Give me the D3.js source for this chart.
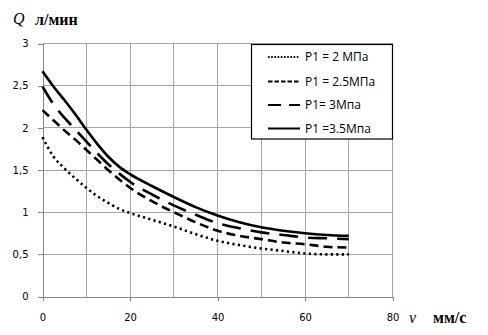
<!DOCTYPE html>
<html>
<head>
<meta charset="utf-8">
<script src="https://cdn.jsdelivr.net/npm/d3@7/dist/d3.min.js"></script>
<style>
  html, body { margin: 0; padding: 0; background: #fff; }
  svg { display: block; }
</style>
</head>
<body>
<svg id="chart" width="488" height="335"></svg>
<script>
// Piston speed v, mm/s
const speeds = [0, 2.5, 5, 7.5, 10, 12.5, 15, 17.5, 20, 25, 30, 35, 40, 45, 50, 55, 60, 65, 70];

// Flow rate Q, l/min, for each supply pressure P1
const q2 = [1.89, 1.66, 1.52, 1.40, 1.29, 1.19, 1.11, 1.04, 0.99, 0.91, 0.83, 0.74, 0.66, 0.61, 0.57, 0.54, 0.51, 0.50, 0.50];
const q25 = [2.21, 2.09, 1.97, 1.86, 1.74, 1.62, 1.50, 1.39, 1.29, 1.13, 1.00, 0.88, 0.78, 0.72, 0.68, 0.64, 0.62, 0.59, 0.58];
const q3 = [2.49, 2.28, 2.12, 1.98, 1.84, 1.70, 1.57, 1.46, 1.36, 1.21, 1.08, 0.97, 0.87, 0.81, 0.76, 0.73, 0.70, 0.69, 0.68];
const q35 = [2.67, 2.49, 2.33, 2.16, 1.98, 1.81, 1.66, 1.54, 1.45, 1.31, 1.18, 1.06, 0.96, 0.88, 0.82, 0.78, 0.75, 0.73, 0.72];

const seriesNames = ["P1 = 2 МПа", "P1 = 2.5МПа", "P1= 3Мпа", "P1 =3.5Мпа"];
const seriesValues = [q2, q25, q3, q35];

const xTicks = [0, 20, 40, 60, 80];
const xGrid = [0, 10, 20, 30, 40, 50, 60, 70, 80];
const yTicks = [0, 0.5, 1, 1.5, 2, 2.5, 3];
const yTickLabels = ["0", "0,5", "1", "1,5", "2", "2,5", "3"];

const svg = d3.select("#chart");

const x = d3.scaleLinear().domain([0, 80]).range([42.5, 392.5]);
const y = d3.scaleLinear().domain([0, 3]).range([296.5, 43.5]);

// Grid
const grid = svg.append("g").attr("stroke", "#a6a6a6").attr("stroke-width", 1).attr("shape-rendering", "crispEdges");
grid.selectAll("line.v").data(xGrid.filter(d => d > 0)).join("line")
  .attr("x1", d => x(d)).attr("x2", d => x(d))
  .attr("y1", y(3)).attr("y2", y(0));
grid.selectAll("line.h").data(yTicks.filter(d => d > 0)).join("line")
  .attr("x1", x(0)).attr("x2", x(80))
  .attr("y1", d => y(d)).attr("y2", d => y(d));

// Axes
const yAxis = d3.axisLeft(y).tickValues(yTicks)
  .tickFormat((d, i) => yTickLabels[i]).tickSize(5).tickPadding(9);
const gy = svg.append("g").attr("transform", `translate(${x(0)},0)`).call(yAxis);

const xAxis = d3.axisBottom(x).tickValues(xTicks).tickFormat(d3.format("d")).tickSize(4).tickPadding(11);
const gx = svg.append("g").attr("transform", `translate(0,${y(0)})`).call(xAxis);

[gx, gy].forEach(g => {
  g.select(".domain").attr("stroke", "#868686").attr("shape-rendering", "crispEdges");
  g.selectAll(".tick line").attr("stroke", "#868686").attr("shape-rendering", "crispEdges");
  g.selectAll(".tick text").attr("fill", "#000")
    .style("font-family", "'DejaVu Sans', Verdana, sans-serif").style("font-size", "10px");
});
gx.selectAll(".tick text").attr("dy", "0.95em");

// Curves
const styles = [
  { dash: "2.2,3.3", width: 2.6, legendDash: "1.6,1.6", legendWidth: 2 },
  { dash: "9,5", width: 2.6, legendDash: "4.5,2", legendWidth: 2 },
  { dash: "19,10", width: 2.6, legendDash: "13,8", legendWidth: 2 },
  { dash: null, width: 2.6, legendDash: null, legendWidth: 2 }
];

const line = d3.line()
  .x((d, i) => x(speeds[i]))
  .y(d => y(d))
  .curve(d3.curveMonotoneX);

svg.append("g").selectAll("path").data(seriesValues).join("path")
  .attr("d", d => line(d))
  .attr("fill", "none")
  .attr("stroke", "#000")
  .attr("stroke-width", (d, i) => styles[i].width)
  .attr("stroke-dasharray", (d, i) => styles[i].dash);

// Legend
const legend = svg.append("g");
legend.append("rect")
  .attr("x", 251.5).attr("y", 44.5).attr("width", 141).attr("height", 94.5)
  .attr("fill", "#fff").attr("stroke", "#000").attr("stroke-width", 1.2);
const rowY = [57, 81.5, 105, 128.5];
seriesNames.forEach((name, i) => {
  legend.append("line")
    .attr("x1", 268).attr("x2", 300)
    .attr("y1", rowY[i]).attr("y2", rowY[i])
    .attr("stroke", "#000")
    .attr("stroke-width", styles[i].legendWidth)
    .attr("stroke-dasharray", styles[i].legendDash);
  legend.append("text")
    .attr("x", 305).attr("y", rowY[i]).attr("dy", "0.36em")
    .style("font-family", "'Open Sans', 'Noto Sans', sans-serif")
    .style("font-size", "12px")
    .text(name);
});

// Axis titles
const titleFont = "'Liberation Serif', 'Times New Roman', serif";
svg.append("text").attr("x", 13).attr("y", 24)
  .style("font-family", titleFont).style("font-style", "italic").style("font-size", "16px")
  .text("Q");
svg.append("text").attr("x", 35).attr("y", 25)
  .style("font-family", titleFont).style("font-weight", "bold").style("font-size", "16px")
  .text("л/мин");
svg.append("text").attr("x", 409).attr("y", 323)
  .style("font-family", titleFont).style("font-style", "italic").style("font-size", "16px")
  .text("v");
svg.append("text").attr("x", 433).attr("y", 323)
  .style("font-family", titleFont).style("font-weight", "bold").style("font-size", "16px")
  .text("мм/с");
</script>
</body>
</html>
